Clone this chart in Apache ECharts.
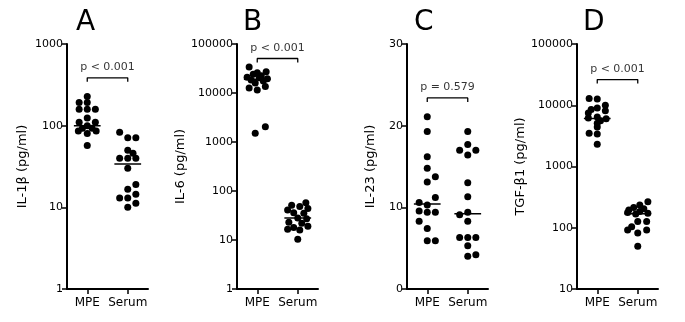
<!DOCTYPE html>
<html><head><meta charset="utf-8">
<script src="https://cdn.jsdelivr.net/npm/echarts@6/dist/echarts.min.js"></script>
<style>html,body{margin:0;padding:0;background:#fff}#c{width:685px;height:322px}</style>
</head><body><div id="c"></div>
<script>
// ---------- data ----------
const groups = ['MPE', 'Serum'];
const panelLetters = ['A', 'B', 'C', 'D'];
const yNames = ['IL-1β (pg/ml)', 'IL-6 (pg/ml)', 'IL-23 (pg/ml)', 'TGF-β1 (pg/ml)'];
const yTypes = ['log', 'log', 'value', 'log'];
const yMin = [1, 1, 0, 10];
const yMax = [1000, 100000, 30, 100000];
const pTexts = ['p < 0.001', 'p < 0.001', 'p = 0.579', 'p < 0.001'];
const bracketLevels = [385, 50600, 23.4, 26300];
const medianMPE = [100, 19000, 10.4, 6100];
const medianSerum = [34, 28, 9.2, 170];

// Panel A: IL-1β
const aMpeVal = [228, 192, 192, 159, 159, 159, 124, 110, 110, 100, 93, 93, 86, 86, 80, 57];
const aMpeJit = [0, -0.2, 0, -0.2, 0, 0.2, 0, -0.2, 0.2, 0, -0.12, 0.12, -0.22, 0.22, 0, 0];
const aSerVal = [83, 71, 71, 50, 46, 40, 40, 40, 30, 19, 16.7, 14.5, 13, 13, 11.2, 10];
const aSerJit = [-0.2, 0, 0.2, 0, 0.13, -0.2, 0, 0.2, 0, 0.2, 0, 0.2, -0.2, 0, 0.2, 0];
// Panel B: IL-6
const bMpeVal = [34000, 27000, 26000, 24000, 22500, 21000, 20500, 19500, 18500, 17500, 16000, 13500, 12600, 11500, 2050, 1500];
const bMpeJit = [-0.2, 0.22, 0, -0.1, 0.1, -0.25, 0.05, 0.25, -0.15, 0.15, -0.05, 0.2, -0.2, 0, 0.2, -0.05];
const bSerVal = [57.7, 51, 48, 44, 41, 36, 35, 28, 27, 23, 22, 19, 18, 16.5, 16, 10.3];
const bSerJit = [0.2, -0.15, 0.05, 0.25, -0.25, -0.1, 0.15, 0, 0.22, -0.22, 0.1, 0.25, -0.1, -0.25, 0.05, 0];
// Panel C: IL-23
const cMpeVal = [21.1, 19.3, 16.2, 14.8, 13.75, 13.1, 11.2, 10.6, 10.3, 9.55, 9.4, 9.4, 8.3, 7.4, 5.9, 5.9];
const cMpeJit = [0, 0, 0, 0, 0.2, 0, 0.2, -0.2, 0, -0.2, 0, 0.2, -0.2, 0, 0, 0.2];
const cSerVal = [19.3, 17.7, 17.0, 17.0, 16.4, 13.0, 11.3, 9.4, 9.1, 8.3, 6.3, 6.3, 6.3, 5.3, 4.0, 4.2];
const cSerJit = [0, 0, -0.2, 0.2, 0, 0, 0, 0, -0.2, 0, -0.2, 0, 0.2, 0, 0, 0.2];
// Panel D: TGF-β1
const dMpeVal = [12900, 12600, 10000, 9000, 8500, 8100, 7500, 6400, 6200, 6000, 5600, 5100, 4400, 3500, 3400, 2300];
const dMpeJit = [-0.2, 0, 0.2, 0, -0.15, 0.2, -0.22, 0, -0.22, 0.22, 0.08, 0, 0, -0.2, 0, 0];
const dSerVal = [266, 235, 215, 205, 195, 185, 178, 172, 168, 126, 126, 104, 92, 92, 82, 50];
const dSerJit = [0.25, 0.05, -0.1, 0.15, -0.22, 0.05, -0.25, 0.25, -0.05, 0, 0.22, -0.15, -0.25, 0.22, 0, 0];

const mpeVals = [aMpeVal, bMpeVal, cMpeVal, dMpeVal];
const mpeJits = [aMpeJit, bMpeJit, cMpeJit, dMpeJit];
const serVals = [aSerVal, bSerVal, cSerVal, dSerVal];
const serJits = [aSerJit, bSerJit, cSerJit, dSerJit];

// ---------- layout ----------
const FONT = 'DejaVu Sans';
const lefts = [67, 237, 407, 577];
const nameGaps = [38, 48, 30, 50];
const letterX = [86, 253, 424, 593];
const GW = 81, GT = 44, GH = 245;
const HALF = 0.33;

const chart = echarts.init(document.getElementById('c'));

function buildOption(drops) {
  const grid = [], xAxis = [], yAxis = [], series = [];
  for (let i = 0; i < 4; i++) {
    grid.push({ left: lefts[i], top: GT, width: GW, height: GH });
    xAxis.push({
      type: 'value', gridIndex: i, min: 0.5, max: 2.5,
      splitLine: { show: false },
      axisLine: { onZero: false, lineStyle: { color: '#000', width: 2 } },
      axisTick: { customValues: [1, 2], length: 5, lineStyle: { color: '#000', width: 1.5 } },
      axisLabel: { customValues: [1, 2], formatter: v => groups[Math.round(v) - 1], color: '#000', fontSize: 12, fontFamily: FONT, margin: 8 }
    });
    const ya = {
      type: yTypes[i], gridIndex: i, min: yMin[i], max: yMax[i],
      name: yNames[i], nameLocation: 'middle', nameGap: nameGaps[i], nameRotate: 90,
      nameTextStyle: { color: '#000', fontSize: 13, fontFamily: FONT },
      splitLine: { show: false },
      axisLine: { show: true, lineStyle: { color: '#000', width: 2 } },
      axisTick: { show: true, length: 5, lineStyle: { color: '#000', width: 1.5 } },
      axisLabel: { color: '#000', fontSize: 11, fontFamily: FONT, margin: 4, formatter: v => String(Math.round(v)) }
    };
    if (yTypes[i] === 'log') ya.logBase = 10; else ya.interval = 10;
    yAxis.push(ya);

    const dot = { symbol: 'circle', symbolSize: 7, itemStyle: { color: '#000', opacity: 1 } };
    series.push(Object.assign({ type: 'scatter', xAxisIndex: i, yAxisIndex: i,
      data: mpeVals[i].map((v, k) => [1 + mpeJits[i][k], v]) }, dot));
    series.push(Object.assign({ type: 'scatter', xAxisIndex: i, yAxisIndex: i,
      data: serVals[i].map((v, k) => [2 + serJits[i][k], v]) }, dot));
    [[1, medianMPE[i]], [2, medianSerum[i]]].forEach(([g, m]) => {
      series.push({ type: 'line', xAxisIndex: i, yAxisIndex: i, symbol: 'none', silent: true,
        lineStyle: { color: '#000', width: 1.5 }, data: [[g - HALF, m], [g + HALF, m]] });
    });
    const L = bracketLevels[i], d = drops ? drops[i] : L;
    series.push({ type: 'line', xAxisIndex: i, yAxisIndex: i, symbol: 'none', silent: true,
      lineStyle: { color: '#000', width: 1.3 },
      data: [[1, d], [1, L], [2, L], [2, d]] });
    series.push({ type: 'scatter', xAxisIndex: i, yAxisIndex: i, symbolSize: 0, silent: true,
      data: [[1.5, L]],
      label: { show: true, position: 'top', distance: 5, formatter: pTexts[i], color: '#000', fontSize: 11, fontFamily: FONT } });
  }
  const graphic = panelLetters.map((t, i) => ({
    type: 'text', left: letterX[i] - 10, top: 9,
    style: { text: t, font: '28px ' + FONT, fill: '#000' }
  }));
  return { animation: false, grid, xAxis, yAxis, series, graphic };
}

chart.setOption(buildOption(null));
// compute the 4px down-ticks of each bracket in data units
const drops = bracketLevels.map((L, i) => {
  const p = chart.convertToPixel({ gridIndex: i }, [1, L]);
  return chart.convertFromPixel({ gridIndex: i }, [p[0], p[1] + 4])[1];
});
chart.setOption(buildOption(drops), true);
</script></body></html>
